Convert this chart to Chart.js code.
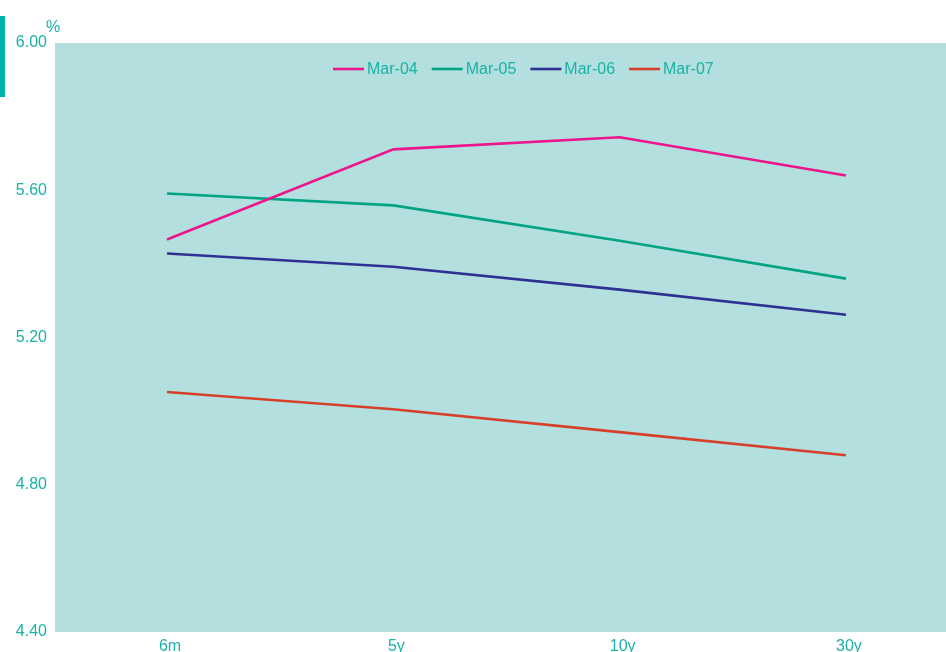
<!DOCTYPE html>
<html>
<head>
<meta charset="utf-8">
<script src="https://cdn.jsdelivr.net/npm/chart.js@4/dist/chart.umd.min.js"></script>
<style>
  html, body { margin: 0; padding: 0; background: #ffffff; }
  #wrap { position: relative; width: 946px; height: 652px; overflow: hidden; }
  canvas { display: block; }
</style>
</head>
<body>
<div id="wrap"><canvas id="c" width="946" height="652"></canvas></div>
<script>
// Yield curve by maturity, one line per snapshot date (%)
const maturities = ['6m', '5y', '10y', '30y'];
const seriesNames = ['Mar-04', 'Mar-05', 'Mar-06', 'Mar-07'];
const mar04 = [5.466, 5.711, 5.744, 5.640];
const mar05 = [5.591, 5.559, 5.463, 5.360];
const mar06 = [5.428, 5.392, 5.330, 5.262];
const mar07 = [5.052, 5.005, 4.943, 4.880];
const yTicks = [4.40, 4.80, 5.20, 5.60, 6.00];

const seriesValues = [mar04, mar05, mar06, mar07];
const colors = ['#ec168c', '#00a382', '#2e3192', '#d6402b'];
const textColor = '#1ab1a8';
const plotBg = '#b3e0df';
const font = 'Liberation Sans, Arial, sans-serif';

const datasets = seriesValues.map((vals, i) => ({
  label: seriesNames[i],
  data: vals.map((v, j) => ({ x: j, y: v })),
  borderColor: colors[i],
  backgroundColor: colors[i],
  borderWidth: 2.6,
  pointRadius: 0,
  tension: 0,
  fill: false
}));

// Shaded plotting area, the small header decorations and the in-plot legend
const decor = {
  id: 'decor',
  beforeDraw(chart) {
    const { ctx, chartArea: a } = chart;
    ctx.save();
    ctx.fillStyle = plotBg;
    ctx.fillRect(a.left, a.top, a.right - a.left, a.bottom - a.top);
    ctx.fillStyle = '#00b2a9';
    ctx.fillRect(0, 16, 5, 81);
    ctx.fillStyle = textColor;
    ctx.font = '16px ' + font;
    ctx.textAlign = 'left';
    ctx.textBaseline = 'alphabetic';
    ctx.fillText('%', 46, 32);
    ctx.restore();
  },
  afterDatasetsDraw(chart) {
    const { ctx } = chart;
    ctx.save();
    ctx.font = '16px ' + font;
    ctx.textBaseline = 'middle';
    ctx.textAlign = 'left';
    const lineLen = 31, gapText = 3, gapItem = 14;
    const widths = chart.data.datasets.map(d => ctx.measureText(d.label).width);
    let x = 333;
    const y = 69;
    chart.data.datasets.forEach((d, i) => {
      ctx.strokeStyle = d.borderColor;
      ctx.lineWidth = 2.6;
      ctx.beginPath();
      ctx.moveTo(x, y);
      ctx.lineTo(x + lineLen, y);
      ctx.stroke();
      ctx.fillStyle = textColor;
      ctx.fillText(d.label, x + lineLen + gapText, y + 0.5);
      x += lineLen + gapText + widths[i] + gapItem;
    });
    ctx.restore();
  }
};

new Chart(document.getElementById('c'), {
  type: 'line',
  data: { datasets },
  options: {
    responsive: false,
    animation: false,
    devicePixelRatio: 1,
    layout: { padding: { top: 43, right: 0, left: 0, bottom: 0 } },
    plugins: {
      legend: { display: false },
      tooltip: { enabled: false }
    },
    scales: {
      x: {
        type: 'linear',
        min: -0.495,
        max: 3.442,
        grid: { display: false, drawTicks: false },
        border: { display: false },
        afterBuildTicks(scale) {
          scale.ticks = maturities.map((_, i) => ({ value: i }));
        },
        afterFit(scale) { scale.height = 20; },
        ticks: {
          color: textColor,
          font: { family: font, size: 16 },
          padding: 5,
          labelOffset: 3,
          maxRotation: 0,
          autoSkip: false,
          callback: v => maturities[v]
        }
      },
      y: {
        min: 4.40,
        max: 6.00,
        grid: { display: false, drawTicks: false },
        border: { display: false },
        afterBuildTicks(scale) {
          scale.ticks = yTicks.map(v => ({ value: v }));
        },
        afterFit(scale) { scale.width = 55; },
        ticks: {
          color: textColor,
          font: { family: font, size: 16 },
          padding: 8,
          callback: v => Number(v).toFixed(2)
        }
      }
    }
  },
  plugins: [decor]
});
</script>
</body>
</html>
